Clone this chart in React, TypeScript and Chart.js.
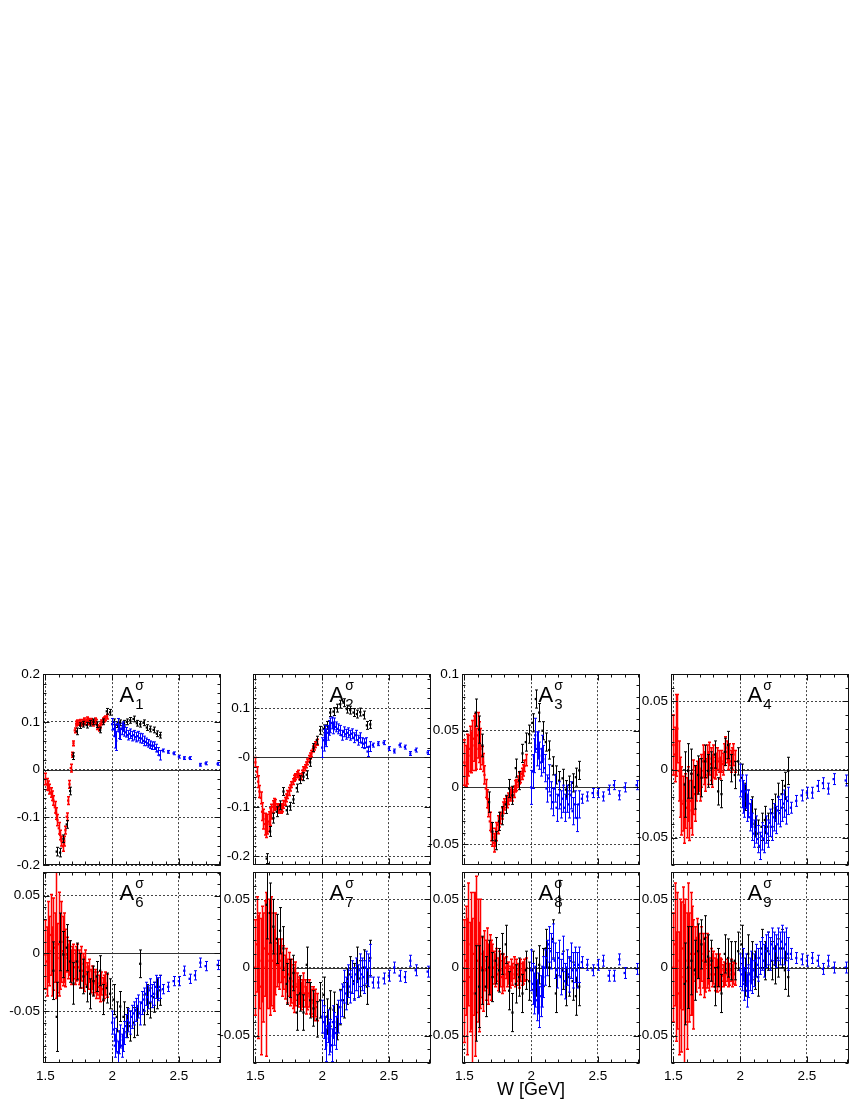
"use client"

import { useEffect, useRef } from "react"
import { Chart, registerables } from "chart.js"

Chart.register(...registerables)

const FONT = "'Liberation Sans', Arial, Helvetica, sans-serif"

// W bins [GeV] of the three data sets
const wRed = [
  1.5, 1.51, 1.52, 1.53, 1.54, 1.55, 1.56, 1.57, 1.58, 1.59,
  1.6, 1.61, 1.62, 1.63, 1.64, 1.65, 1.66, 1.67, 1.68, 1.69,
  1.7, 1.71, 1.72, 1.73, 1.74, 1.75, 1.76, 1.77, 1.78, 1.79,
  1.8, 1.81, 1.82, 1.83, 1.84, 1.85, 1.86, 1.87, 1.88, 1.89,
  1.9, 1.91, 1.92, 1.93, 1.94, 1.95, 1.96,
]
const wBlack = [
  1.56, 1.585, 1.61, 1.635, 1.66, 1.685, 1.71, 1.735, 1.76, 1.785,
  1.81, 1.835, 1.86, 1.885, 1.91, 1.935, 1.96, 1.985, 2.01, 2.035,
  2.06, 2.085, 2.11, 2.135, 2.16, 2.185, 2.21, 2.235, 2.26, 2.285,
  2.31, 2.335, 2.36,
]
const wBlue = [
  2.0, 2.01, 2.02, 2.03, 2.04, 2.05, 2.06, 2.07, 2.08, 2.09,
  2.1, 2.115, 2.13, 2.145, 2.16, 2.175, 2.19, 2.205, 2.22, 2.235,
  2.25, 2.265, 2.28, 2.295, 2.31, 2.325, 2.34, 2.355,
  2.38, 2.42, 2.46, 2.5, 2.54, 2.58, 2.62, 2.66, 2.7, 2.79,
]

const xTicks = [1.5, 2, 2.5]
const xTickLabels = ["1.5", "2", "2.5"]

// ---- A1
const a1Red = [
  -0.02, -0.031, -0.034, -0.041, -0.048, -0.055, -0.065, -0.079, -0.092, -0.106,
  -0.123, -0.137, -0.15, -0.161, -0.15, -0.127, -0.099, -0.065, -0.031, 0.003,
  0.031, 0.055, 0.082, 0.096, 0.099, 0.098, 0.1, 0.096, 0.1, 0.103,
  0.099, 0.105, 0.102, 0.099, 0.102, 0.099, 0.096, 0.103, 0.1, 0.089,
  0.086, 0.092, 0.099, 0.103, 0.105, 0.107, 0.111,
]
const a1RedErr = [
  0.012, 0.012, 0.01, 0.01, 0.01, 0.01, 0.01, 0.012, 0.012, 0.012,
  0.012, 0.01, 0.01, 0.01, 0.01, 0.008, 0.008, 0.008, 0.008, 0.008,
  0.005, 0.005, 0.005, 0.005, 0.005, 0.005, 0.005, 0.005, 0.005, 0.005,
  0.005, 0.005, 0.005, 0.005, 0.005, 0.005, 0.005, 0.005, 0.005, 0.005,
  0.005, 0.005, 0.005, 0.005, 0.005, 0.005, 0.005,
]
const a1Black = [
  null, -0.172, -0.174, -0.145, -0.115, -0.045, 0.028, 0.08, 0.092, 0.095,
  0.093, 0.097, 0.1, 0.094, 0.083, 0.1, 0.122, 0.12, 0.1, 0.094,
  0.098, 0.097, 0.1, 0.103, 0.106, 0.097, 0.095, 0.098, 0.088, 0.085,
  0.083, 0.075, 0.072,
]
const a1BlackErr = [
  0, 0.009, 0.009, 0.008, 0.008, 0.008, 0.007, 0.007, 0.006, 0.006,
  0.006, 0.006, 0.006, 0.006, 0.006, 0.006, 0.006, 0.006, 0.006, 0.006,
  0.006, 0.006, 0.006, 0.006, 0.006, 0.006, 0.006, 0.006, 0.006, 0.006,
  0.006, 0.006, 0.006,
]
const a1Blue = [
  0.095, 0.085, 0.07, 0.06, 0.095, 0.08, 0.075, 0.085, 0.09, 0.082,
  0.078, 0.072, 0.075, 0.07, 0.072, 0.068, 0.07, 0.066, 0.065, 0.06,
  0.058, 0.055, 0.052, 0.05, 0.05, 0.045, 0.038, 0.03,
  0.04, 0.037, 0.034, 0.027, 0.024, 0.024, null, 0.01, 0.013, 0.012,
]
const a1BlueErr = [
  0.012, 0.015, 0.025, 0.02, 0.012, 0.015, 0.012, 0.012, 0.01, 0.012,
  0.01, 0.01, 0.01, 0.01, 0.01, 0.01, 0.01, 0.01, 0.01, 0.01,
  0.008, 0.008, 0.008, 0.008, 0.008, 0.008, 0.008, 0.01,
  0.003, 0.003, 0.003, 0.003, 0.003, 0.003, 0.003, 0.003, 0.003, 0.003,
]

// ---- A2
const a2Red = [
  -0.01, -0.029, -0.049, -0.069, -0.082, -0.11, -0.125, -0.135, -0.14, -0.135,
  -0.13, -0.12, -0.11, -0.1, -0.095, -0.095, -0.102, -0.105, -0.102, -0.105,
  -0.102, -0.095, -0.089, -0.082, -0.075, -0.069, -0.062, -0.055, -0.049, -0.042,
  -0.039, -0.035, -0.032, -0.039, -0.039, -0.032, -0.025, -0.021, -0.015, -0.009,
  -0.002, 0.003, 0.008, 0.017, 0.021, 0.026, 0.031,
]
const a2RedErr = [
  0.01, 0.01, 0.012, 0.012, 0.012, 0.018, 0.02, 0.022, 0.022, 0.02,
  0.02, 0.018, 0.015, 0.012, 0.012, 0.01, 0.008, 0.008, 0.008, 0.008,
  0.008, 0.008, 0.008, 0.008, 0.008, 0.008, 0.006, 0.006, 0.006, 0.006,
  0.006, 0.006, 0.006, 0.006, 0.006, 0.006, 0.006, 0.006, 0.006, 0.006,
  0.006, 0.006, 0.006, 0.006, 0.006, 0.006, 0.006,
]
const a2Black = [
  null, -0.205, -0.15, -0.123, -0.11, -0.097, -0.069, -0.107, -0.099, -0.085,
  -0.062, -0.045, -0.039, -0.035, -0.01, 0.02, 0.035, 0.055, 0.058, 0.065,
  0.091, 0.093, 0.1, 0.108, 0.111, 0.098, 0.096, 0.091, 0.088, 0.092,
  0.086, 0.065, 0.067,
]
const a2BlackErr = [
  0, 0.01, 0.01, 0.01, 0.01, 0.009, 0.008, 0.008, 0.008, 0.008,
  0.008, 0.008, 0.008, 0.008, 0.008, 0.008, 0.008, 0.008, 0.008, 0.008,
  0.008, 0.008, 0.008, 0.008, 0.008, 0.008, 0.008, 0.008, 0.008, 0.008,
  0.008, 0.008, 0.008,
]
const a2Blue = [
  0.02, 0.035, 0.045, 0.04, 0.05, 0.06, 0.065, 0.07, 0.06, 0.068,
  0.062, 0.058, 0.055, 0.045, 0.052, 0.047, 0.05, 0.045, 0.048, 0.04,
  0.045, 0.035, 0.04, 0.03, 0.028, 0.03, 0.012, 0.022,
  0.025, 0.028, 0.03, 0.018, 0.013, 0.025, 0.021, 0.008, 0.015, 0.01,
]
const a2BlueErr = [
  0.02, 0.022, 0.02, 0.018, 0.015, 0.015, 0.015, 0.012, 0.012, 0.012,
  0.01, 0.01, 0.01, 0.01, 0.01, 0.01, 0.01, 0.01, 0.01, 0.01,
  0.01, 0.01, 0.01, 0.01, 0.01, 0.01, 0.01, 0.01,
  0.004, 0.004, 0.004, 0.004, 0.004, 0.004, 0.004, 0.004, 0.004, 0.004,
]

// ---- A3
const a3Red = [
  0.022, 0.019, 0.025, 0.028, 0.034, 0.031, 0.037, 0.043, 0.04, 0.034,
  0.046, 0.04, 0.034, 0.028, 0.022, 0.011, -0.001, -0.01, -0.018, -0.03,
  -0.039, -0.044, -0.049, -0.044, -0.039, -0.033, -0.03, -0.027, -0.023, -0.018,
  -0.015, -0.013, -0.013, -0.01, -0.007, -0.005, -0.007, -0.004, 0.001, 0.002,
  0.005, 0.008, 0.009, 0.012, 0.015, 0.019, 0.024,
]
const a3RedErr = [
  0.02, 0.018, 0.022, 0.018, 0.02, 0.018, 0.022, 0.02, 0.025, 0.018,
  0.02, 0.018, 0.018, 0.008, 0.008, 0.008, 0.008, 0.008, 0.008, 0.008,
  0.008, 0.008, 0.008, 0.008, 0.008, 0.008, 0.005, 0.005, 0.005, 0.005,
  0.005, 0.005, 0.005, 0.005, 0.005, 0.005, 0.005, 0.005, 0.005, 0.005,
  0.005, 0.005, 0.005, 0.005, 0.005, 0.005, 0.005,
]
const a3Black = [
  null, 0.066, 0.051, 0.037, null, -0.013, -0.039, -0.047, -0.03, -0.025,
  -0.015, -0.001, -0.007, 0.017, 0.006, 0.03, 0.04, 0.047, 0.057, 0.078,
  0.066, 0.05, 0.04, 0.033, 0.019, 0.011, 0.006, 0.008, -0.002, 0.002,
  0.004, 0.009, 0.015,
]
const a3BlackErr = [
  0, 0.012, 0.012, 0.01, 0, 0.009, 0.008, 0.008, 0.008, 0.008,
  0.008, 0.008, 0.008, 0.008, 0.008, 0.008, 0.008, 0.008, 0.008, 0.008,
  0.008, 0.008, 0.008, 0.008, 0.008, 0.008, 0.008, 0.008, 0.008, 0.008,
  0.008, 0.008, 0.008,
]
const a3Blue = [
  0.0, 0.014, 0.028, 0.046, 0.034, 0.037, 0.028, 0.022, 0.034, 0.025,
  0.017, -0.001, 0.008, -0.007, -0.013, -0.001, -0.018, -0.007, -0.015, -0.01,
  -0.018, -0.01, -0.015, -0.007, -0.021, -0.015, -0.027, -0.015,
  -0.01, -0.008, -0.005, -0.005, -0.008, -0.002, 0.002, -0.007, 0.0, 0.002,
]
const a3BlueErr = [
  0.015, 0.015, 0.015, 0.015, 0.015, 0.012, 0.012, 0.012, 0.012, 0.012,
  0.012, 0.012, 0.012, 0.012, 0.012, 0.012, 0.012, 0.012, 0.012, 0.012,
  0.012, 0.012, 0.012, 0.012, 0.012, 0.012, 0.012, 0.012,
  0.004, 0.004, 0.004, 0.004, 0.004, 0.004, 0.004, 0.004, 0.004, 0.004,
]

// ---- A4
const a4Red = [
  0.018, 0.011, 0.025, 0.03, -0.001, -0.013, -0.023, -0.025, -0.032, -0.023,
  -0.028, -0.018, -0.03, -0.023, -0.028, -0.013, -0.018, -0.011, -0.006, -0.004,
  -0.011, -0.001, 0.006, 0.001, -0.004, 0.006, 0.001, 0.008, 0.004, -0.001,
  0.006, 0.001, 0.004, 0.008, 0.006, 0.001, 0.006, 0.004, 0.011, 0.016,
  0.013, 0.008, 0.011, 0.006, 0.008, 0.011, 0.006,
]
const a4RedErr = [
  0.022, 0.02, 0.03, 0.025, 0.022, 0.022, 0.025, 0.02, 0.022, 0.02,
  0.022, 0.02, 0.022, 0.02, 0.02, 0.02, 0.02, 0.012, 0.012, 0.012,
  0.012, 0.012, 0.012, 0.012, 0.012, 0.012, 0.012, 0.012, 0.012, 0.012,
  0.012, 0.008, 0.008, 0.008, 0.008, 0.008, 0.008, 0.008, 0.008, 0.008,
  0.008, 0.008, 0.008, 0.008, 0.008, 0.008, 0.008,
]
const a4Black = [
  null, -0.011, -0.001, -0.003, -0.013, -0.004, -0.006, 0.006, -0.001, 0.001,
  0.011, -0.016, -0.018, 0.013, 0.018, 0.001, -0.004, 0.006, -0.006, -0.02,
  -0.025, -0.03, -0.039, -0.047, -0.042, -0.037, -0.042, -0.032, -0.028, -0.02,
  -0.018, -0.012, -0.001,
]
const a4BlackErr = [
  0, 0.024, 0.02, 0.018, 0.016, 0.014, 0.014, 0.012, 0.012, 0.012,
  0.01, 0.01, 0.01, 0.01, 0.01, 0.01, 0.01, 0.01, 0.01, 0.01,
  0.01, 0.01, 0.01, 0.01, 0.01, 0.01, 0.01, 0.01, 0.01, 0.01,
  0.01, 0.01, 0.01,
]
const a4Blue = [
  -0.008, -0.016, -0.02, -0.023, -0.016, -0.028, -0.025, -0.035, -0.032, -0.042,
  -0.047, -0.044, -0.051, -0.056, -0.049, -0.051, -0.044, -0.047, -0.039, -0.042,
  -0.035, -0.037, -0.03, -0.032, -0.028, -0.025, -0.03, -0.023,
  -0.028, -0.023, -0.019, -0.017, -0.017, -0.012, -0.01, -0.014, -0.007, -0.008,
]
const a4BlueErr = [
  0.012, 0.012, 0.012, 0.012, 0.012, 0.01, 0.01, 0.01, 0.01, 0.01,
  0.01, 0.01, 0.01, 0.01, 0.01, 0.01, 0.01, 0.01, 0.01, 0.01,
  0.01, 0.01, 0.01, 0.01, 0.01, 0.01, 0.01, 0.01,
  0.004, 0.004, 0.004, 0.004, 0.004, 0.004, 0.004, 0.004, 0.004, 0.004,
]

// ---- A6
const a6Red = [
  -0.001, -0.007, 0.01, 0.002, 0.016, -0.007, 0.008, 0.005, 0.016, -0.004,
  0.008, -0.001, 0.01, 0.002, 0.005, -0.004, -0.001, -0.007, -0.004, -0.012,
  -0.009, -0.007, -0.012, -0.009, -0.007, -0.012, -0.015, -0.009, -0.015, -0.018,
  -0.012, -0.018, -0.021, -0.015, -0.024, -0.021, -0.026, -0.024, -0.029, -0.026,
  -0.029, -0.032, -0.026, -0.031, -0.029, -0.026, -0.028,
]
const a6RedErr = [
  0.03, 0.03, 0.035, 0.03, 0.035, 0.03, 0.04, 0.03, 0.055, 0.03,
  0.045, 0.03, 0.035, 0.03, 0.03, 0.025, 0.015, 0.015, 0.015, 0.015,
  0.015, 0.015, 0.015, 0.015, 0.015, 0.015, 0.015, 0.015, 0.015, 0.015,
  0.015, 0.01, 0.01, 0.01, 0.01, 0.01, 0.01, 0.01, 0.01, 0.01,
  0.01, 0.01, 0.01, 0.01, 0.01, 0.01, 0.01,
]
const a6Black = [
  -0.015, -0.055, 0.01, -0.001, 0.005, -0.007, -0.026, -0.007, -0.015, -0.02,
  -0.029, -0.035, -0.024, -0.02, -0.015, -0.04, -0.03, -0.035, -0.04, -0.055,
  -0.046, -0.055, -0.06, -0.063, -0.06, -0.058, -0.009, -0.049, -0.04, -0.043,
  -0.038, -0.035, -0.032,
]
const a6BlackErr = [
  0.025, 0.03, 0.025, 0.02, 0.02, 0.018, 0.018, 0.016, 0.015, 0.015,
  0.013, 0.013, 0.013, 0.013, 0.013, 0.013, 0.013, 0.013, 0.013, 0.013,
  0.013, 0.013, 0.013, 0.013, 0.013, 0.013, 0.012, 0.013, 0.013, 0.013,
  0.013, 0.013, 0.013,
]
const a6Blue = [
  -0.06, -0.066, -0.08, -0.075, -0.086, -0.077, -0.072, -0.08, -0.075, -0.069,
  -0.063, -0.058, -0.06, -0.055, -0.052, -0.049, -0.046, -0.052, -0.043, -0.04,
  -0.035, -0.038, -0.032, -0.037, -0.035, -0.029, -0.031, -0.029,
  -0.031, -0.029, -0.024, -0.024, -0.015, -0.022, -0.019, -0.008, -0.011, -0.01,
]
const a6BlueErr = [
  0.01, 0.01, 0.01, 0.01, 0.01, 0.01, 0.01, 0.01, 0.01, 0.01,
  0.01, 0.01, 0.01, 0.01, 0.01, 0.01, 0.01, 0.01, 0.01, 0.01,
  0.01, 0.01, 0.01, 0.01, 0.01, 0.01, 0.01, 0.01,
  0.004, 0.004, 0.004, 0.004, 0.004, 0.004, 0.004, 0.004, 0.004, 0.004,
]

// ---- A7
const a7Red = [
  0.0, 0.017, -0.007, 0.005, -0.014, 0.01, 0.0, 0.014, -0.005, 0.005,
  0.01, 0.0, 0.012, 0.005, -0.002, 0.01, 0.002, 0.005, 0.0, 0.005,
  -0.005, 0.0, -0.007, -0.002, -0.01, -0.005, -0.012, -0.01, -0.014, -0.017,
  -0.012, -0.014, -0.019, -0.017, -0.021, -0.019, -0.014, -0.019, -0.024, -0.021,
  -0.019, -0.024, -0.026, -0.024, -0.029, -0.026, -0.029,
]
const a7RedErr = [
  0.035, 0.035, 0.045, 0.035, 0.05, 0.035, 0.04, 0.035, 0.06, 0.035,
  0.04, 0.035, 0.04, 0.035, 0.03, 0.03, 0.016, 0.016, 0.016, 0.016,
  0.016, 0.016, 0.016, 0.016, 0.016, 0.016, 0.016, 0.016, 0.016, 0.016,
  0.016, 0.01, 0.01, 0.01, 0.01, 0.01, 0.01, 0.01, 0.01, 0.01,
  0.01, 0.01, 0.01, 0.01, 0.01, 0.01, 0.01,
]
const a7Black = [
  null, 0.046, 0.04, 0.03, 0.021, 0.027, 0.014, -0.012, -0.008, -0.004,
  -0.033, -0.019, -0.033, 0.002, -0.024, -0.03, -0.038, -0.024, -0.02, -0.036,
  -0.03, -0.031, -0.04, -0.029, -0.024, -0.014, -0.005, -0.01, 0.002, -0.008,
  0.0, -0.014, 0.007,
]
const a7BlackErr = [
  0, 0.025, 0.022, 0.02, 0.018, 0.017, 0.016, 0.015, 0.014, 0.013,
  0.013, 0.013, 0.013, 0.013, 0.013, 0.013, 0.013, 0.013, 0.013, 0.013,
  0.013, 0.013, 0.013, 0.013, 0.013, 0.013, 0.013, 0.013, 0.013, 0.013,
  0.013, 0.013, 0.013,
]
const a7Blue = [
  -0.036, -0.04, -0.048, -0.057, -0.043, -0.052, -0.05, -0.057, -0.04, -0.045,
  -0.048, -0.036, -0.029, -0.024, -0.014, -0.019, -0.01, -0.014, -0.007, -0.012,
  -0.005, -0.01, -0.002, -0.005, -0.007, 0.0, -0.002, 0.005,
  -0.011, -0.011, -0.008, -0.006, 0.0, -0.006, -0.007, 0.005, -0.002, -0.003,
]
const a7BlueErr = [
  0.012, 0.012, 0.012, 0.012, 0.012, 0.012, 0.012, 0.012, 0.012, 0.012,
  0.012, 0.012, 0.012, 0.012, 0.012, 0.012, 0.012, 0.012, 0.012, 0.012,
  0.012, 0.012, 0.012, 0.012, 0.012, 0.012, 0.012, 0.012,
  0.004, 0.004, 0.004, 0.004, 0.004, 0.004, 0.004, 0.004, 0.004, 0.004,
]

// ---- A8
const a8Red = [
  -0.01, 0.005, -0.014, 0.017, -0.007, 0.005, -0.019, 0.01, -0.005, 0.017,
  0.005, -0.007, 0.01, 0.0, -0.01, 0.005, -0.002, 0.007, -0.005, 0.002,
  -0.002, 0.005, 0.0, -0.002, 0.002, -0.005, 0.0, -0.002, -0.007, -0.002,
  -0.005, 0.0, -0.006, -0.004, -0.007, -0.002, -0.005, 0.0, -0.006, -0.002,
  -0.005, -0.007, -0.002, -0.005, -0.004, -0.002, -0.001,
]
const a8RedErr = [
  0.045, 0.04, 0.05, 0.045, 0.04, 0.05, 0.055, 0.045, 0.06, 0.05,
  0.045, 0.04, 0.04, 0.022, 0.022, 0.022, 0.022, 0.022, 0.022, 0.022,
  0.022, 0.012, 0.012, 0.012, 0.012, 0.012, 0.012, 0.012, 0.012, 0.012,
  0.012, 0.008, 0.008, 0.008, 0.008, 0.008, 0.008, 0.008, 0.008, 0.008,
  0.008, 0.008, 0.008, 0.008, 0.008, 0.008, 0.008,
]
const a8Black = [
  null, -0.019, -0.014, -0.002, -0.014, 0.0, -0.007, 0.005, -0.002, 0.01,
  0.017, -0.017, -0.033, -0.012, -0.007, -0.019, -0.002, -0.01, -0.002, -0.007,
  0.002, 0.0, 0.014, 0.0, 0.021, -0.019, 0.052, -0.002, -0.014, -0.007,
  -0.01, -0.021, -0.014,
]
const a8BlackErr = [
  0, 0.035, 0.03, 0.025, 0.022, 0.02, 0.018, 0.017, 0.016, 0.015,
  0.014, 0.014, 0.014, 0.014, 0.014, 0.014, 0.014, 0.014, 0.014, 0.014,
  0.014, 0.014, 0.014, 0.014, 0.014, 0.014, 0.012, 0.014, 0.014, 0.014,
  0.014, 0.014, 0.014,
]
const a8Blue = [
  -0.002, -0.012, -0.019, -0.014, -0.024, -0.019, -0.029, -0.021, -0.014, -0.007,
  0.0, 0.007, 0.017, 0.012, 0.019, 0.005, -0.002, 0.007, -0.007, 0.01,
  -0.01, 0.0, -0.005, 0.005, -0.002, 0.002, -0.002, 0.002,
  0.004, 0.002, -0.002, 0.002, 0.005, -0.006, -0.006, 0.006, -0.004, -0.001,
]
const a8BlueErr = [
  0.015, 0.015, 0.015, 0.015, 0.015, 0.015, 0.015, 0.015, 0.015, 0.015,
  0.013, 0.013, 0.013, 0.013, 0.013, 0.013, 0.013, 0.013, 0.013, 0.013,
  0.013, 0.013, 0.013, 0.013, 0.013, 0.013, 0.013, 0.013,
  0.004, 0.004, 0.004, 0.004, 0.004, 0.004, 0.004, 0.004, 0.004, 0.004,
]

// ---- A9
const a9Red = [
  0.0, 0.017, -0.014, 0.005, -0.019, 0.01, -0.007, 0.014, -0.014, 0.005,
  -0.01, 0.017, 0.0, 0.01, 0.005, -0.005, 0.01, 0.002, 0.014, 0.005,
  0.0, 0.01, 0.005, -0.002, 0.002, 0.005, 0.0, -0.005, 0.002, -0.002,
  0.0, -0.005, -0.002, -0.006, -0.002, -0.005, -0.002, -0.006, -0.004, -0.005,
  -0.002, -0.006, -0.005, -0.002, -0.006, -0.004, -0.005,
]
const a9RedErr = [
  0.04, 0.045, 0.04, 0.05, 0.045, 0.04, 0.055, 0.045, 0.06, 0.045,
  0.05, 0.045, 0.04, 0.045, 0.04, 0.04, 0.02, 0.02, 0.022, 0.02,
  0.02, 0.02, 0.02, 0.02, 0.02, 0.02, 0.012, 0.012, 0.012, 0.012,
  0.012, 0.012, 0.012, 0.012, 0.012, 0.012, 0.008, 0.008, 0.008, 0.008,
  0.008, 0.008, 0.008, 0.008, 0.008, 0.008, 0.008,
]
const a9Black = [
  null, -0.012, 0.0, 0.005, -0.002, 0.012, 0.017, 0.021, 0.008, 0.005,
  -0.014, 0.0, -0.019, 0.01, 0.007, 0.005, 0.005, 0.012, 0.017, -0.007,
  0.01, 0.005, -0.002, -0.007, 0.014, 0.005, 0.012, 0.005, 0.002, 0.007,
  0.014, -0.002, -0.007,
]
const a9BlackErr = [
  0, 0.03, 0.03, 0.025, 0.022, 0.02, 0.018, 0.017, 0.016, 0.015,
  0.014, 0.014, 0.014, 0.014, 0.014, 0.014, 0.014, 0.014, 0.014, 0.014,
  0.014, 0.014, 0.014, 0.014, 0.014, 0.014, 0.014, 0.014, 0.014, 0.014,
  0.014, 0.014, 0.014,
]
const a9Blue = [
  -0.002, -0.005, 0.002, -0.012, -0.002, -0.017, -0.01, -0.005, 0.0, -0.007,
  -0.002, 0.005, 0.002, 0.007, 0.01, 0.005, 0.012, 0.014, 0.01, 0.017,
  0.014, 0.012, 0.017, 0.014, 0.019, 0.014, 0.017, 0.01,
  0.01, 0.007, 0.006, 0.005, 0.007, 0.005, -0.001, 0.005, 0.0, 0.0,
]
const a9BlueErr = [
  0.012, 0.012, 0.012, 0.012, 0.012, 0.012, 0.012, 0.012, 0.012, 0.012,
  0.012, 0.012, 0.012, 0.012, 0.012, 0.012, 0.012, 0.012, 0.012, 0.012,
  0.012, 0.012, 0.012, 0.012, 0.012, 0.012, 0.012, 0.012,
  0.004, 0.004, 0.004, 0.004, 0.004, 0.004, 0.004, 0.004, 0.004, 0.004,
]

type Vals = (number | null)[]

type Panel = {
  sub: string
  row: number
  col: number
  yMin: number
  yMax: number
  yTicks: number[]
  yLabels: string[]
  yMinor: number
  red: Vals
  redErr: number[]
  black: Vals
  blackErr: number[]
  blue: Vals
  blueErr: number[]
}

const panels: Panel[] = [
  { sub: "1", row: 0, col: 0, yMin: -0.2, yMax: 0.2, yTicks: [-0.2, -0.1, 0, 0.1, 0.2], yLabels: ["-0.2", "-0.1", "0", "0.1", "0.2"], yMinor: 0.02,
    red: a1Red, redErr: a1RedErr, black: a1Black, blackErr: a1BlackErr, blue: a1Blue, blueErr: a1BlueErr },
  { sub: "2", row: 0, col: 1, yMin: -0.218, yMax: 0.169, yTicks: [-0.2, -0.1, 0, 0.1], yLabels: ["-0.2", "-0.1", "-0", "0.1"], yMinor: 0.02,
    red: a2Red, redErr: a2RedErr, black: a2Black, blackErr: a2BlackErr, blue: a2Blue, blueErr: a2BlueErr },
  { sub: "3", row: 0, col: 2, yMin: -0.0685, yMax: 0.1, yTicks: [-0.05, 0, 0.05, 0.1], yLabels: ["-0.05", "0", "0.05", "0.1"], yMinor: 0.01,
    red: a3Red, redErr: a3RedErr, black: a3Black, blackErr: a3BlackErr, blue: a3Blue, blueErr: a3BlueErr },
  { sub: "4", row: 0, col: 3, yMin: -0.07, yMax: 0.07, yTicks: [-0.05, 0, 0.05], yLabels: ["-0.05", "0", "0.05"], yMinor: 0.01,
    red: a4Red, redErr: a4RedErr, black: a4Black, blackErr: a4BlackErr, blue: a4Blue, blueErr: a4BlueErr },
  { sub: "6", row: 1, col: 0, yMin: -0.095, yMax: 0.0705, yTicks: [-0.05, 0, 0.05], yLabels: ["-0.05", "0", "0.05"], yMinor: 0.01,
    red: a6Red, redErr: a6RedErr, black: a6Black, blackErr: a6BlackErr, blue: a6Blue, blueErr: a6BlueErr },
  { sub: "7", row: 1, col: 1, yMin: -0.07, yMax: 0.07, yTicks: [-0.05, 0, 0.05], yLabels: ["-0.05", "0", "0.05"], yMinor: 0.01,
    red: a7Red, redErr: a7RedErr, black: a7Black, blackErr: a7BlackErr, blue: a7Blue, blueErr: a7BlueErr },
  { sub: "8", row: 1, col: 2, yMin: -0.07, yMax: 0.07, yTicks: [-0.05, 0, 0.05], yLabels: ["-0.05", "0", "0.05"], yMinor: 0.01,
    red: a8Red, redErr: a8RedErr, black: a8Black, blackErr: a8BlackErr, blue: a8Blue, blueErr: a8BlueErr },
  { sub: "9", row: 1, col: 3, yMin: -0.07, yMax: 0.07, yTicks: [-0.05, 0, 0.05], yLabels: ["-0.05", "0", "0.05"], yMinor: 0.01,
    red: a9Red, redErr: a9RedErr, black: a9Black, blackErr: a9BlackErr, blue: a9Blue, blueErr: a9BlueErr },
]

// layout of the pad grid (page pixels)
const PLOT_LEFT = [43, 253, 462, 671]
const PLOT_TOP = [671, 869]
const PLOT_W = 178
const PLOT_H = 194
const AXIS_W = 42
const PAD_T = 8
const PAD_R = 6
const X_MIN = 1.482
const X_MAX = 2.815

function makeSet(ws: number[], vs: Vals, es: number[], color: string, lw: number) {
  const data: { x: number; y: number }[] = []
  const errs: number[] = []
  ws.forEach((w, i) => {
    const v = vs[i]
    if (v !== null && v !== undefined) {
      data.push({ x: w, y: v })
      errs.push(es[i])
    }
  })
  return {
    data,
    errs,
    barWidth: lw,
    borderColor: color,
    backgroundColor: color,
    pointStyle: "rect",
    pointRadius: 1.6,
    pointBorderWidth: 0,
    pointHoverRadius: 0,
  }
}

function PanelChart({ p }: { p: Panel }) {
  const chartRef = useRef<HTMLCanvasElement>(null)
  const bottomH = p.row === 1 ? 24 : 12
  const width = AXIS_W + PLOT_W + PAD_R
  const height = PAD_T + PLOT_H + bottomH

  useEffect(() => {
    if (!chartRef.current) return
    const ctx = chartRef.current.getContext("2d")
    if (!ctx) return

    const decor = {
      id: "decor",
      beforeDatasetsDraw(chart: any) {
        const { ctx, chartArea: a, scales } = chart
        const y0 = Math.round(scales.y.getPixelForValue(0)) + 0.5
        ctx.save()
        ctx.strokeStyle = "#333"
        ctx.lineWidth = 1
        ctx.beginPath()
        ctx.moveTo(a.left, y0)
        ctx.lineTo(a.right, y0)
        ctx.stroke()
        ctx.restore()
      },
      afterDatasetDraw(chart: any, args: any) {
        const ds: any = chart.data.datasets[args.index]
        const { ctx, chartArea: a, scales } = chart
        ctx.save()
        ctx.beginPath()
        ctx.rect(a.left, a.top, a.right - a.left, a.bottom - a.top)
        ctx.clip()
        ctx.strokeStyle = ds.borderColor
        ctx.lineWidth = ds.barWidth
        ctx.beginPath()
        ds.data.forEach((pt: any, i: number) => {
          const e = ds.errs[i]
          const x = Math.round(scales.x.getPixelForValue(pt.x)) + 0.5
          const yl = scales.y.getPixelForValue(pt.y - e)
          const yh = scales.y.getPixelForValue(pt.y + e)
          ctx.moveTo(x, yl)
          ctx.lineTo(x, yh)
          ctx.moveTo(x - 1.5, yl)
          ctx.lineTo(x + 1.5, yl)
          ctx.moveTo(x - 1.5, yh)
          ctx.lineTo(x + 1.5, yh)
        })
        ctx.stroke()
        ctx.restore()
      },
      afterDraw(chart: any) {
        const { ctx, chartArea: a, scales } = chart
        const L = Math.round(a.left) + 0.5
        const R = Math.round(a.right) - 0.5
        const T = Math.round(a.top) + 0.5
        const B = Math.round(a.bottom) - 0.5
        ctx.save()
        ctx.strokeStyle = "#111"
        ctx.lineWidth = 1
        ctx.strokeRect(L, T, R - L, B - T)

        // tick marks on all four sides
        ctx.beginPath()
        for (let k = 15; k <= 28; k++) {
          const x = Math.round(scales.x.getPixelForValue(k / 10)) + 0.5
          const len = k % 5 === 0 ? 6 : 3
          ctx.moveTo(x, B)
          ctx.lineTo(x, B - len)
          ctx.moveTo(x, T)
          ctx.lineTo(x, T + len)
        }
        const step = p.yMinor
        for (let k = Math.ceil(p.yMin / step - 1e-6); k <= Math.floor(p.yMax / step + 1e-6); k++) {
          const v = k * step
          const y = Math.round(scales.y.getPixelForValue(v)) + 0.5
          const major = p.yTicks.some((t) => Math.abs(t - v) < 1e-6)
          const len = major ? 6 : 3
          ctx.moveTo(L, y)
          ctx.lineTo(L + len, y)
          ctx.moveTo(R, y)
          ctx.lineTo(R - len, y)
        }
        ctx.stroke()

        // pad title A^sigma_n
        ctx.fillStyle = "#000"
        ctx.textBaseline = "alphabetic"
        ctx.textAlign = "left"
        const x0 = a.left + 76.5
        ctx.font = `22px ${FONT}`
        ctx.fillText("A", x0, a.top + 28)
        const wA = ctx.measureText("A").width
        ctx.font = `14px ${FONT}`
        ctx.fillText("σ", x0 + wA + 1, a.top + 15.5)
        ctx.font = `15px ${FONT}`
        ctx.fillText(p.sub, x0 + wA + 1, a.top + 35)
        ctx.restore()
      },
    }

    const chart = new Chart(ctx, {
      type: "scatter",
      data: {
        datasets: [
          makeSet(wBlue, p.blue, p.blueErr, "#0000ff", 1),
          makeSet(wBlack, p.black, p.blackErr, "#000000", 1),
          makeSet(wRed, p.red, p.redErr, "#ff0000", 1.5),
        ] as any,
      },
      options: {
        animation: false,
        responsive: false,
        events: [],
        layout: { padding: { left: 0, top: PAD_T, right: PAD_R, bottom: 0 } },
        plugins: {
          legend: { display: false },
          tooltip: { enabled: false },
        },
        scales: {
          x: {
            type: "linear",
            min: X_MIN,
            max: X_MAX,
            afterBuildTicks: (s: any) => {
              s.ticks = xTicks.map((v) => ({ value: v }))
            },
            afterFit: (s: any) => {
              s.height = bottomH
            },
            ticks: {
              display: p.row === 1,
              padding: 5,
              autoSkip: false,
              maxRotation: 0,
              color: "#000",
              font: { family: FONT, size: 13.5 },
              callback: (_v: any, i: number) => xTickLabels[i],
            },
            grid: { color: "#444", lineWidth: 1, drawTicks: false },
            border: { display: false, dash: [2, 2] },
          },
          y: {
            type: "linear",
            min: p.yMin,
            max: p.yMax,
            afterBuildTicks: (s: any) => {
              s.ticks = p.yTicks.map((v) => ({ value: v }))
            },
            afterFit: (s: any) => {
              s.width = AXIS_W
            },
            ticks: {
              padding: 3,
              autoSkip: false,
              color: "#000",
              font: { family: FONT, size: 13.5 },
              callback: (_v: any, i: number) => p.yLabels[i],
            },
            grid: { color: "#444", lineWidth: 1, drawTicks: false },
            border: { display: false, dash: [2, 2] },
          },
        },
      },
      plugins: [decor],
    })

    return () => {
      chart.destroy()
    }
  }, [p])

  return (
    <div
      style={{
        position: "absolute",
        left: PLOT_LEFT[p.col] - AXIS_W,
        top: PLOT_TOP[p.row] - PAD_T,
        width,
        height,
      }}
    >
      <canvas ref={chartRef} width={width} height={height} style={{ width, height }}></canvas>
    </div>
  )
}

export default function App() {
  return (
    <div
      style={{
        position: "absolute",
        left: 0,
        top: 0,
        width: 850,
        height: 1100,
        overflow: "hidden",
        background: "#fff",
      }}
    >
      {panels.map((p) => (
        <PanelChart key={p.sub} p={p} />
      ))}
      <div
        style={{
          position: "absolute",
          left: 497,
          top: 1080,
          fontFamily: FONT,
          fontSize: 18,
          lineHeight: "18px",
          whiteSpace: "nowrap",
          color: "#000",
        }}
      >
        W [GeV]
      </div>
    </div>
  )
}
